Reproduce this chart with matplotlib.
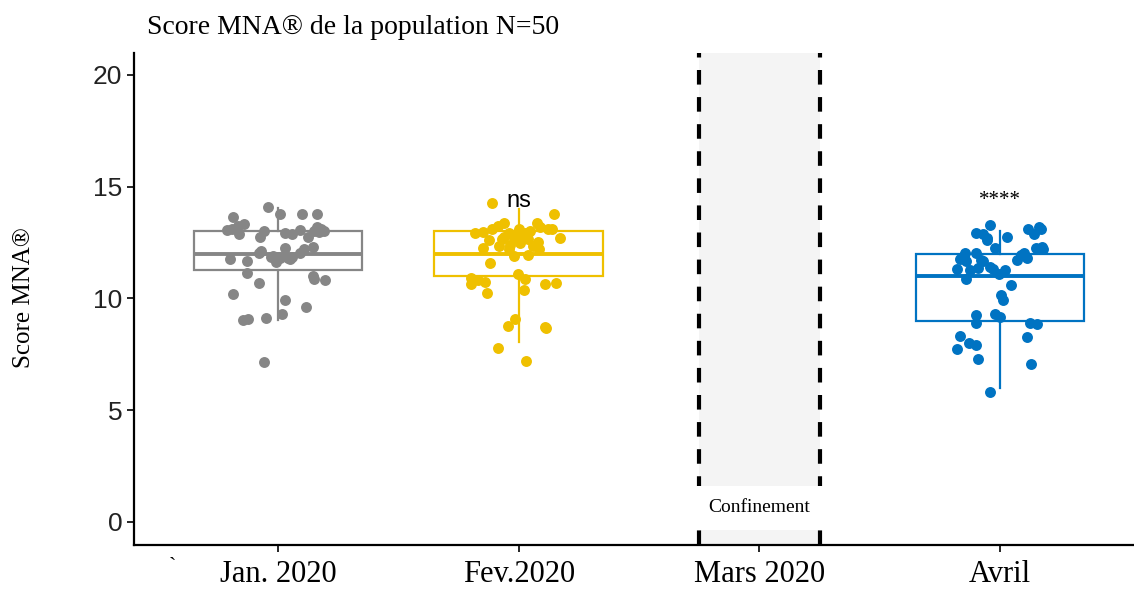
import matplotlib.pyplot as plt

# categories and group colours (ggsci "jco" palette)
months = ['Jan. 2020', 'Fev.2020', 'Mars 2020', 'Avril']
group_pos = [1, 2, 4]
group_colors = ['#868686', '#EFC000', '#0073C2']
signif = ['', 'ns', '****']

# MNA scores (displayed positions) + horizontal jitter
jan_scores = [14.08, 13.66, 13.77, 13.78, 13.78, 13.32, 13.24, 13.06, 13.10, 12.89,
              13.03, 12.77, 12.94, 12.89, 13.06, 12.77, 13.21, 13.10, 13.03, 13.00,
              12.05, 12.10, 11.75, 11.69, 11.87, 11.65, 11.80, 12.25, 11.80, 11.87,
              12.05, 12.20, 12.32, 11.15, 10.71, 11.00, 10.86, 10.83, 10.19, 9.93,
              9.63, 9.04, 9.10, 9.14, 9.29, 7.17, 11.90, 11.87, 12.95, 11.75]
jan_jitter = [-0.04, -0.185, 0.01, 0.10, 0.16, -0.14, -0.165, -0.21, -0.19, -0.16,
              -0.06, -0.075, 0.03, 0.06, 0.09, 0.125, 0.16, 0.18, 0.19, 0.15,
              -0.08, -0.07, -0.20, -0.13, -0.03, -0.01, 0.01, 0.03, 0.04, 0.06,
              0.09, 0.11, 0.145, -0.13, -0.08, 0.145, 0.15, 0.195, -0.185, 0.03,
              0.115, -0.145, -0.125, -0.05, 0.015, -0.06, -0.02, 0.00, 0.17, 0.05]

fev_scores = [14.29, 13.78, 13.36, 13.24, 13.10, 13.36, 13.20, 13.10, 12.94, 12.99,
              12.94, 13.10, 12.94, 12.69, 12.62, 12.66, 12.69, 12.66, 12.54, 12.25,
              12.35, 12.38, 12.47, 12.35, 12.20, 11.90, 11.95, 11.60, 11.10, 10.86,
              10.90, 10.83, 10.64, 10.75, 10.64, 10.68, 10.26, 10.38, 9.07, 8.77,
              8.74, 8.67, 7.80, 7.22, 12.90, 12.60, 12.75, 12.20, 13.00, 13.10]
fev_jitter = [-0.11, 0.145, -0.06, -0.085, -0.11, 0.075, 0.09, 0.14, -0.18, -0.15,
              -0.04, 0.00, 0.025, 0.17, -0.125, -0.07, -0.02, 0.04, 0.08, -0.15,
              -0.08, -0.035, 0.005, 0.06, 0.085, -0.02, 0.04, -0.12, -0.005, 0.025,
              -0.20, -0.17, -0.20, -0.14, 0.11, 0.155, -0.13, 0.02, -0.015, -0.045,
              0.11, 0.115, -0.085, 0.03, -0.01, 0.005, -0.06, -0.04, 0.045, 0.12]

avr_scores = [13.29, 12.94, 12.90, 12.69, 12.60, 12.77, 13.10, 13.21, 13.10, 12.90,
              12.25, 12.32, 12.20, 12.02, 12.02, 11.75, 11.66, 11.66, 12.02, 11.80,
              11.70, 11.30, 11.25, 11.36, 11.30, 11.10, 11.25, 10.86, 10.60, 10.16,
              9.93, 9.26, 8.89, 9.30, 9.16, 8.89, 8.84, 8.32, 8.00, 7.92,
              7.73, 8.29, 7.31, 7.07, 5.80, 11.90, 11.70, 11.95, 11.40, 12.25]
avr_jitter = [-0.04, -0.10, -0.07, -0.055, -0.055, 0.03, 0.115, 0.16, 0.17, 0.14,
              -0.02, 0.175, 0.18, -0.145, -0.10, -0.165, -0.14, -0.07, 0.10, 0.11,
              0.07, -0.18, -0.125, -0.09, -0.03, -0.005, 0.02, -0.14, 0.045, 0.005,
              0.01, -0.10, -0.10, -0.02, 0.00, 0.125, 0.155, -0.165, -0.13, -0.10,
              -0.18, 0.11, -0.09, 0.13, -0.04, -0.15, -0.08, 0.085, -0.04, 0.15]

# box statistics
box_whislo = [9.04, 8.05, 6.0]
box_q1 = [11.25, 11.0, 9.0]
box_med = [12.0, 12.0, 11.0]
box_q3 = [13.0, 13.0, 12.0]
box_whishi = [14.05, 14.0, 13.0]

scores = [jan_scores, fev_scores, avr_scores]
jitters = [jan_jitter, fev_jitter, avr_jitter]

fig = plt.figure(figsize=(11.34, 5.91), dpi=100)
ax = fig.add_axes([0.1178, 0.078, 0.8915, 0.833])

# confinement band
ax.axvspan(2.75, 3.25, color='#f4f4f4', zorder=0, lw=0)
for xv in (2.75, 3.25):
    ax.axvline(xv, color='black', lw=3, ls=(0, (3.5, 3)), zorder=1)
ax.text(3, 0.63, 'Confinement', ha='center', va='center', family='Liberation Serif',
        fontsize=14, zorder=5,
        bbox=dict(boxstyle='square,pad=0.7', fc='white', ec='none'))

for i in range(3):
    c = group_colors[i]
    st = dict(whislo=box_whislo[i], q1=box_q1[i], med=box_med[i],
              q3=box_q3[i], whishi=box_whishi[i])
    ax.bxp([st], positions=[group_pos[i]], widths=0.7, showfliers=False,
           showcaps=False, patch_artist=True,
           boxprops=dict(facecolor='white', edgecolor=c, lw=1.6),
           whiskerprops=dict(color=c, lw=1.6),
           medianprops=dict(color=c, lw=2.8), zorder=2)
    xs = [group_pos[i] + d for d in jitters[i]]
    ax.scatter(xs, scores[i], s=62, color=c, lw=0, zorder=3)
    if signif[i] == 'ns':
        ax.text(group_pos[i], 14.35, 'ns', ha='center', va='center',
                family='Liberation Sans', fontsize=17, zorder=4)
    elif signif[i]:
        ax.text(group_pos[i], 14.4, signif[i], ha='center', va='center',
                family='Liberation Serif', fontsize=15, zorder=4)

ax.set_xlim(0.4, 4.6)
ax.set_ylim(-1.03, 21)
ax.set_xticks([1, 2, 3, 4])
ax.set_xticklabels(months, family='Liberation Serif', fontsize=22)
ax.set_yticks([0, 5, 10, 15, 20])
ax.set_yticklabels(['0', '5', '10', '15', '20'], family='Liberation Sans',
                   fontsize=19, color='#222222')
ax.tick_params(axis='both', length=5, width=1.2, color='black')
ax.tick_params(axis='x', pad=6)
ax.tick_params(axis='y', pad=3)
for s in ('top', 'right'):
    ax.spines[s].set_visible(False)
for s in ('left', 'bottom'):
    ax.spines[s].set_linewidth(1.6)

fig.text(172 / 1134, 1 - 567 / 591, '`', family='Liberation Serif', fontsize=16,
         ha='center', va='center')
fig.text(147 / 1134, 1 - 28 / 591, 'Score MNA® de la population N=50',
         family='Liberation Serif', fontsize=20, ha='left', va='center')
fig.text(24 / 1134, 1 - 298 / 591, 'Score MNA®', family='Liberation Serif',
         fontsize=18, rotation=90, ha='center', va='center')

fig.savefig('out.png', dpi=100)
